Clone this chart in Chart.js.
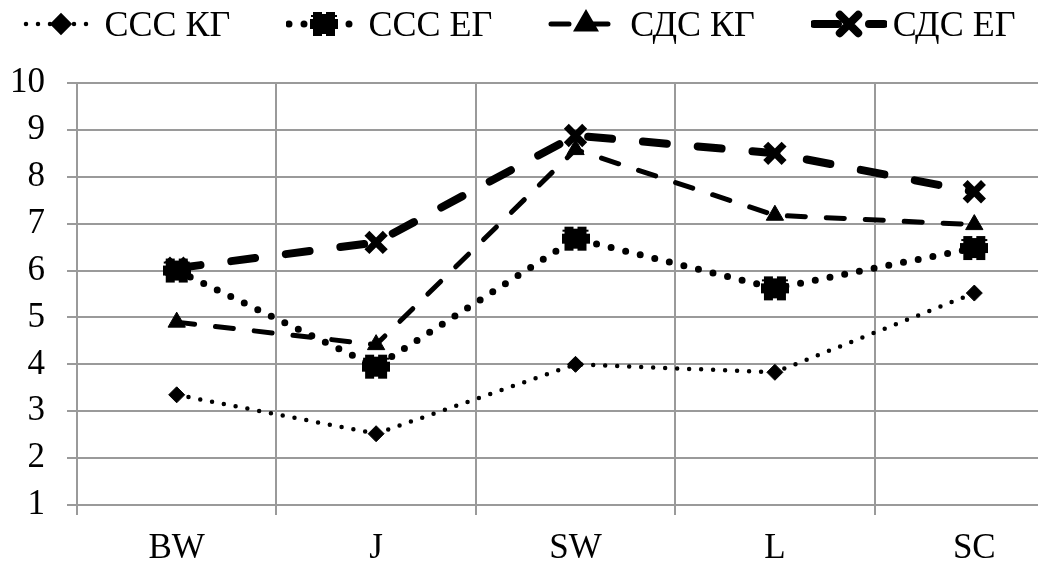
<!DOCTYPE html>
<html>
<head>
<meta charset="utf-8">
<script src="https://cdn.jsdelivr.net/npm/chart.js@4"></script>
<style>
  body { margin: 0; overflow: hidden; background: #fff; }
  #wrap { position: relative; width: 1094px; height: 564px; }
  #legend { position: absolute; left: 0; top: 0; width: 1038px; height: 48px;
    display: flex; justify-content: center; align-items: center; gap: 56px;
    font-family: 'Times New Roman', 'Liberation Serif', serif; font-size: 36px; color: #000; }
  #legend .item { display: flex; align-items: center; }
  #legend canvas { margin-right: 6px; }
</style>
</head>
<body>
<div id="wrap">
  <canvas id="myChart" width="1094" height="564"></canvas>
  <div id="legend"></div>
</div>
<script>
// data
const categories = ["BW", "J", "SW", "L", "SC"];
const seriesNames = ["ССС КГ", "ССС ЕГ", "СДС КГ", "СДС ЕГ"];
const cccKG = [3.35, 2.52, 4.0, 3.83, 5.52];
const cccEG = [6.0, 3.95, 6.68, 5.62, 6.48];
const sdsKG = [4.9, 4.42, 8.58, 7.18, 6.98];
const sdsEG = [6.05, 6.6, 8.88, 8.5, 7.68];
const yMin = 1, yMax = 10;

const serif = "'Times New Roman', 'Liberation Serif', serif";
const grey = "#9a9a9a";

// blobby square marker for ССС ЕГ
function blobMarker() {
  const c = document.createElement("canvas");
  c.width = 28; c.height = 28;
  const g = c.getContext("2d");
  g.fillStyle = "#000";
  g.fillRect(3, 2, 22, 24);
  g.fillRect(0, 9, 28, 10);
  g.fillRect(1, 5, 26, 2);
  g.globalCompositeOperation = "destination-out";
  g.fillRect(12, 2, 4, 2);
  g.fillRect(12, 24, 4, 2);
  return c;
}

const datasets = [
  { label: seriesNames[0], data: cccKG, borderWidth: 4.5, borderDash: [0, 12],
    pointStyle: "rectRot", pointRadius: 8, pointBorderWidth: 1, order: 3 },
  { label: seriesNames[1], data: cccEG, borderWidth: 7, borderDash: [0, 15],
    pointStyle: blobMarker(), pointRadius: 14, pointBorderWidth: 0, order: 2 },
  { label: seriesNames[2], data: sdsKG, borderWidth: 5, borderDash: [18, 21],
    pointStyle: "triangle", pointRadius: 10, pointBorderWidth: 1, order: 1 },
  { label: seriesNames[3], data: sdsEG, borderWidth: 8, borderDash: [24, 31],
    pointStyle: "crossRot", pointRadius: 13, pointBorderWidth: 7, order: 0 }
].map(d => Object.assign({
  borderColor: "#000", backgroundColor: "#000",
  pointBackgroundColor: "#000", pointBorderColor: "#000",
  borderCapStyle: "round", tension: 0, fill: false
}, d));

const chart = new Chart(document.getElementById("myChart"), {
  type: "line",
  data: { labels: categories, datasets: datasets },
  options: {
    responsive: false,
    animation: false,
    devicePixelRatio: 1,
    layout: { padding: { top: 83, left: 0, right: 6, bottom: 0 } },
    plugins: { legend: { display: false }, tooltip: { enabled: false } },
    scales: {
      x: {
        offset: true,
        grid: { offset: true, color: grey, lineWidth: 2, tickLength: 10 },
        border: { color: grey, width: 2 },
        ticks: { color: "#000", padding: 13, font: { family: serif, size: 35 } },
        afterFit: s => { s.height = 59; }
      },
      y: {
        min: yMin, max: yMax,
        grid: { color: grey, lineWidth: 2, tickLength: 10 },
        border: { color: grey, width: 2 },
        ticks: { stepSize: 1, color: "#000", padding: 22, font: { family: serif, size: 35 } },
        afterFit: s => { s.width = 77; }
      }
    }
  }
});

// legend with line samples
const legend = document.getElementById("legend");
datasets.forEach(ds => {
  const item = document.createElement("div");
  item.className = "item";
  const c = document.createElement("canvas");
  c.width = 76; c.height = 40;
  const g = c.getContext("2d");
  g.strokeStyle = "#000"; g.fillStyle = "#000";
  g.lineWidth = ds.borderWidth; g.lineCap = "round";
  g.setLineDash(ds.borderDash);
  g.beginPath(); g.moveTo(3, 20); g.lineTo(73, 20); g.stroke();
  g.setLineDash([]);
  Chart.helpers.drawPoint(g, { pointStyle: ds.pointStyle, radius: ds.pointRadius,
    borderWidth: ds.pointBorderWidth, rotation: 0 }, 38, 20);
  item.appendChild(c);
  const t = document.createElement("span");
  t.textContent = ds.label;
  item.appendChild(t);
  legend.appendChild(item);
});
</script>
</body>
</html>
